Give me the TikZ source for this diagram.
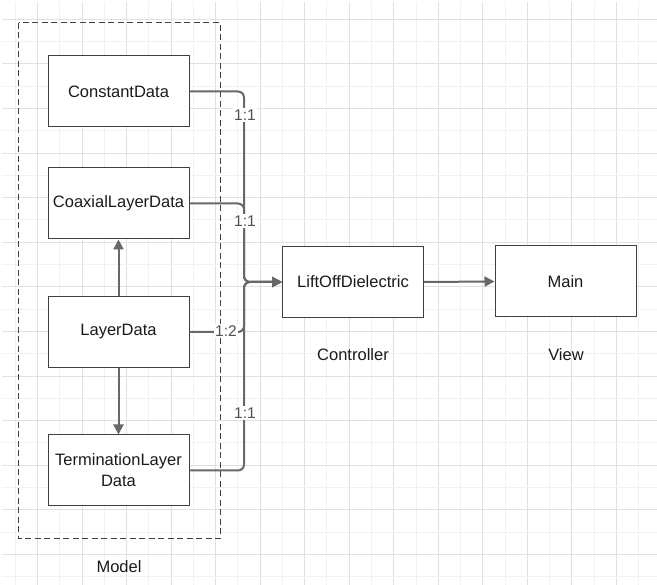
\documentclass[tikz,border=0pt]{standalone}
\usepackage{fontspec}
\setmainfont{Liberation Sans}
\usetikzlibrary{arrows.meta}
\definecolor{gridminor}{HTML}{F1F1F1}
\definecolor{gridmajor}{HTML}{E0E0E0}
\definecolor{edgegray}{HTML}{686868}
\definecolor{boxline}{HTML}{404040}
\definecolor{labelgray}{HTML}{505050}
\definecolor{inktext}{HTML}{1A1A1A}

\tikzset{
  classbox/.style={draw=boxline, line width=1pt, fill=white,
    minimum width=141pt, minimum height=71pt, inner sep=0pt,
    align=center, text=inktext, font=\fontsize{16.5}{21}\selectfont},
  caption/.style={text=inktext, inner sep=1pt, font=\fontsize{16.5}{21}\selectfont},
  link/.style={draw=edgegray, line width=2pt, rounded corners=6pt,
    -{Triangle[length=10pt,width=10pt]}},
  ratio/.style={fill=white, text=labelgray, inner sep=1.5pt,
    font=\fontsize{15.5}{17}\selectfont},
  groupframe/.style={draw=boxline, line width=1pt, dash pattern=on 6pt off 3.5pt}
}

\begin{document}
\begin{tikzpicture}[x=1pt,y=-1pt]
  % canvas and background grid
  \fill[white] (0,0) rectangle (657,585);
  \useasboundingbox (0,0) rectangle (657,585);
  \foreach \k in {0,...,29} {
    \pgfmathsetmacro{\gx}{15.2+22.27*\k}
    \ifodd\k
      \draw[gridmajor, line width=1pt] (\gx,2) -- (\gx,585);
    \else
      \draw[gridminor, line width=1pt] (\gx,2) -- (\gx,585);
    \fi
  }
  \foreach \k in {0,...,25} {
    \pgfmathsetmacro{\gy}{19.3+22.3*\k}
    \ifodd\k
      \draw[gridminor, line width=1pt] (2,\gy) -- (657,\gy);
    \else
      \draw[gridmajor, line width=1pt] (2,\gy) -- (657,\gy);
    \fi
  }

  % model group
  \draw[groupframe] (18.5,23) rectangle (220,539);

  % classes
  \node[classbox] (cd)  at (118.5,91.5)  {ConstantData};
  \node[classbox] (cx)  at (118.5,203.5) {CoaxialLayerData};
  \node[classbox] (ld)  at (118.5,332)   {LayerData};
  \node[classbox] (tl)  at (118.5,470.5) {TerminationLayer\\Data};
  \node[classbox] (lod) at (353,282)     {LiftOffDielectric};
  \node[classbox] (mn)  at (565.5,281.5) {Main};

  % layer captions
  \node[caption] (capm) at (119,567) {Model};
  \node[caption] (capc) at (353,355) {Controller};
  \node[caption] (capv) at (566,355) {View};

  % junction in front of the controller
  \coordinate (j) at (244,282);

  % associations into the controller
  \draw[link] (cd.east) -| (j) -- (lod.west);
  \draw[link] (cx.east) -| (j) -- (lod.west);
  \draw[link] (ld.east) -| (j) -- (lod.west);
  \draw[link] (tl.east) -| (j) -- (lod.west);

  % multiplicities
  \node[ratio] (r1) at (245,115) {1:1};
  \node[ratio] (r2) at (245,221) {1:1};
  \node[ratio] (r3) at (226,331) {1:2};
  \node[ratio] (r4) at (245,413) {1:1};

  % controller to view
  \draw[link] (lod.east) -- (mn.west);

  % layer data dependencies
  \draw[link] (ld.north) -- (cx.south);
  \draw[link] (ld.south) -- (tl.north);
\end{tikzpicture}
\end{document}
